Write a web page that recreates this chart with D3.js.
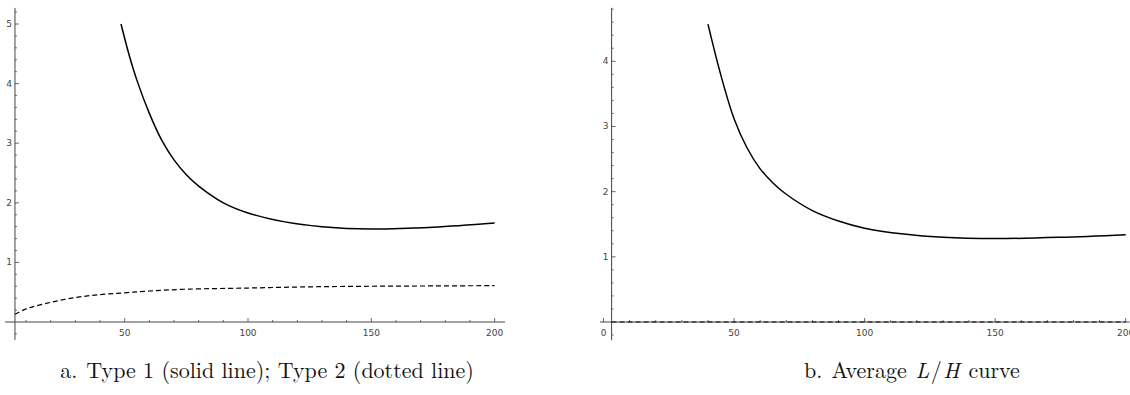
<!DOCTYPE html>
<html>
<head>
<meta charset="utf-8">
<script src="https://cdn.jsdelivr.net/npm/d3@7"></script>
<style>
  body { margin: 0; background: #fff; }
  svg { display: block; }
  .tick-label { font-family: "DejaVu Sans", sans-serif; font-size: 9px; fill: #444; }
  .caption { font-family: "Latin Modern Roman", "Times New Roman", serif; font-size: 22px; fill: #111; }
</style>
</head>
<body>
<svg id="chart" width="1130" height="395"></svg>
<script>
// Panel a: Type 1 (solida) y Type 2 (discontinua)
const type1X = [48.5, 52, 55, 60, 65, 70, 75, 80, 90, 100, 115, 130, 150, 175, 200];
const type1Y = [5.0, 4.45, 4.05, 3.5, 3.05, 2.72, 2.47, 2.28, 2.0, 1.83, 1.68, 1.60, 1.56, 1.59, 1.66];
const type2X = [5.5, 10, 20, 30, 40, 50, 60, 75, 100, 125, 150, 175, 200];
const type2Y = [0.13, 0.22, 0.33, 0.41, 0.46, 0.49, 0.52, 0.55, 0.57, 0.59, 0.60, 0.605, 0.61];

// Panel b: curva media L/H
const avgX = [40, 45, 50, 55, 60, 65, 70, 80, 90, 100, 115, 130, 150, 175, 200];
const avgY = [4.57, 3.78, 3.12, 2.67, 2.35, 2.13, 1.96, 1.71, 1.55, 1.44, 1.35, 1.30, 1.28, 1.30, 1.34];
const avgZeroX = [3.1, 200];
const avgZeroY = [0, 0];

const xMajor = [50, 100, 150, 200];
const xMinorStep = 10;
const yMajorA = [1, 2, 3, 4, 5];
const yMajorB = [1, 2, 3, 4];
const yMinorStep = 0.2;

const captionA = ["a.", "Type 1 (solid line); Type 2 (dotted line)"];
const captionB = ["b.", "Average ", "L", "/", "H", " curve"];

const svg = d3.select("#chart");
const AXIS_COLOR = "#444";

function drawPanel(cfg) {
  const g = svg.append("g");
  const x = cfg.x, y = cfg.y;
  const x0 = x(cfg.yAxisAt), y0 = y(0);

  // ejes
  g.append("line").attr("x1", x(cfg.xExtent[0])).attr("x2", x(cfg.xExtent[1]))
    .attr("y1", y0).attr("y2", y0).attr("stroke", AXIS_COLOR).attr("stroke-width", 1);
  g.append("line").attr("x1", x0).attr("x2", x0)
    .attr("y1", y(cfg.yExtent[0])).attr("y2", y(cfg.yExtent[1]))
    .attr("stroke", AXIS_COLOR).attr("stroke-width", 1);

  // ticks x
  const xMinor = d3.range(10, 201, xMinorStep).filter(v => !xMajor.includes(v));
  g.selectAll(".xminor").data(xMinor).enter().append("line")
    .attr("x1", d => x(d)).attr("x2", d => x(d)).attr("y1", y0).attr("y2", y0 - 2)
    .attr("stroke", AXIS_COLOR).attr("stroke-width", 0.8);
  const xMaj = cfg.xZeroLabel ? [0].concat(xMajor) : xMajor;
  g.selectAll(".xmajor").data(xMaj).enter().append("line")
    .attr("x1", d => x(d)).attr("x2", d => x(d)).attr("y1", y0).attr("y2", y0 - 4)
    .attr("stroke", AXIS_COLOR).attr("stroke-width", 0.8);
  g.selectAll(".xlab").data(xMaj).enter().append("text")
    .attr("class", "tick-label").attr("x", d => x(d)).attr("y", y0 + 14)
    .attr("text-anchor", "middle").text(d => d);

  // ticks y
  const yMinor = d3.range(-1, Math.floor(cfg.yExtent[1] / yMinorStep) + 1)
    .map(i => +(i * yMinorStep).toFixed(1))
    .filter(v => v !== 0 && !cfg.yMajor.includes(v) && v >= cfg.yExtent[0]);
  g.selectAll(".yminor").data(yMinor).enter().append("line")
    .attr("x1", x0).attr("x2", x0 + 2).attr("y1", d => y(d)).attr("y2", d => y(d))
    .attr("stroke", AXIS_COLOR).attr("stroke-width", 0.8);
  g.selectAll(".ymajor").data(cfg.yMajor).enter().append("line")
    .attr("x1", x0).attr("x2", x0 + 4).attr("y1", d => y(d)).attr("y2", d => y(d))
    .attr("stroke", AXIS_COLOR).attr("stroke-width", 0.8);
  g.selectAll(".ylab").data(cfg.yMajor).enter().append("text")
    .attr("class", "tick-label").attr("x", x0 - 3).attr("y", d => y(d) + 3)
    .attr("text-anchor", "end").text(d => d);

  // curvas
  const line = d3.line().x(d => x(d[0])).y(d => y(d[1])).curve(d3.curveCatmullRom.alpha(0.5));
  cfg.series.forEach(s => {
    g.append("path").datum(d3.zip(s.xs, s.ys))
      .attr("d", line).attr("fill", "none").attr("stroke", "#000")
      .attr("stroke-width", s.dashed ? 1.2 : 1.5)
      .attr("stroke-dasharray", s.dashed ? "5,3" : null);
  });
}

drawPanel({
  x: d3.scaleLinear().domain([0, 200]).range([1.4, 494.6]),
  y: d3.scaleLinear().domain([0, 5]).range([322, 24]),
  yAxisAt: 5.5,
  xExtent: [1.5, 204.2],
  yExtent: [-0.3, 5.27],
  xZeroLabel: false,
  yMajor: yMajorA,
  series: [
    { xs: type1X, ys: type1Y, dashed: false },
    { xs: type2X, ys: type2Y, dashed: true }
  ]
});

drawPanel({
  x: d3.scaleLinear().domain([0, 200]).range([603.5, 1125.7]),
  y: d3.scaleLinear().domain([0, 4]).range([322, 61.3]),
  yAxisAt: 3.1,
  xExtent: [-1.3, 201.5],
  yExtent: [-0.28, 4.82],
  xZeroLabel: true,
  yMajor: yMajorB,
  series: [
    { xs: avgX, ys: avgY, dashed: false },
    { xs: avgZeroX, ys: avgZeroY, dashed: true }
  ]
});

// leyendas inferiores (estilo subcaption: etiqueta + hueco)
function caption(parts, xMid, italicIdx) {
  const t = svg.append("text").attr("class", "caption").attr("x", xMid).attr("y", 378)
    .attr("text-anchor", "middle");
  parts.forEach((p, i) => {
    t.append("tspan").text(p)
      .attr("dx", i === 1 ? 9 : (italicIdx.includes(i) || italicIdx.includes(i - 1)) ? 1.5 : null)
      .style("font-style", italicIdx.includes(i) ? "italic" : null);
  });
}
caption(captionA, 267, []);
caption(captionB, 912, [2, 4]);
</script>
</body>
</html>
